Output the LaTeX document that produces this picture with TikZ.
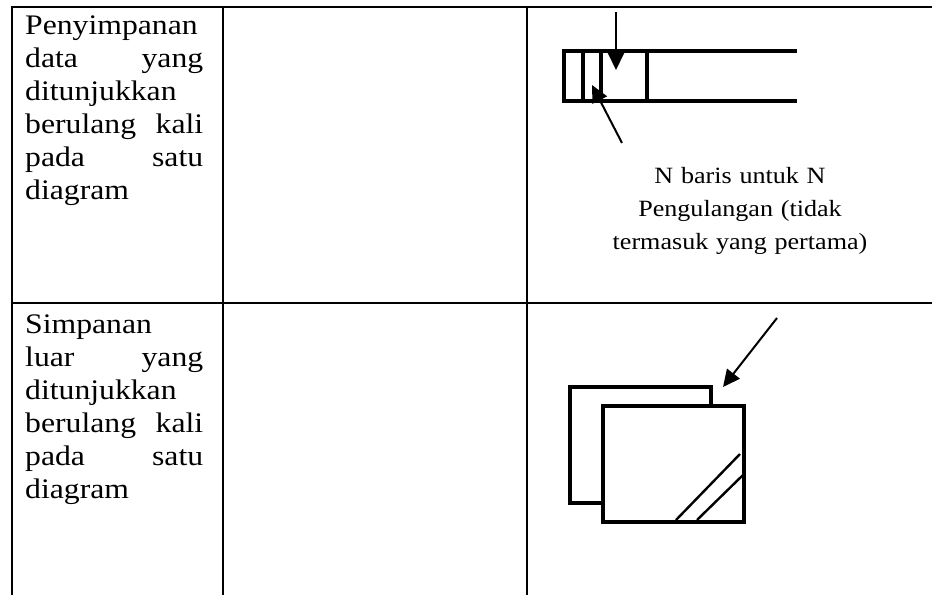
\documentclass[tikz,border=0pt]{standalone}
\usepackage{fontspec}
\setmainfont{Liberation Serif}
\newfontfamily\cellfont[FakeStretch=1.12]{Liberation Serif}
\usepackage{tikz}
\usetikzlibrary{arrows.meta}
\tikzset{
    tableline/.style = {line width=2.6pt},
    storeline/.style = {line width=3.2pt},
    boxline/.style = {line width=3.8pt, fill=white},
    hatchline/.style = {line width=2.4pt},
    pointer/.style = {->, line width=2pt},
    celltext/.style = {anchor=base west, inner sep=0pt, text width=178pt, align=left, font=\cellfont\fontsize{28.3}{33}\selectfont},
    notetext/.style = {anchor=base, inner sep=0pt, text width=300pt, align=center, font=\cellfont\fontsize{23.3}{33}\selectfont}
}

\begin{document}
\begin{tikzpicture}
            [x=1pt, y=-1pt,
            >={Triangle[length=17pt, width=16pt]}]

            \useasboundingbox (0,0) rectangle (932,595);

            % table
            \draw[tableline] (12,595) -- (12,7) -- (932,7);
            \draw[tableline] (12,303) -- (932,303);
            \draw[tableline] (223,7) -- (223,595);
            \draw[tableline] (527,7) -- (527,595);

            % first column
            \node[celltext] (repeatstore) at (25,34)
                {Penyimpanan\\ data\hfill yang\\ ditunjukkan\\ berulang\hfill kali\\ pada\hfill satu\\ diagram};
            \node[celltext] (repeatext) at (25,333)
                {Simpanan\\ luar\hfill yang\\ ditunjukkan\\ berulang\hfill kali\\ pada\hfill satu\\ diagram};

            % data store with extra lines
            \draw[storeline] (797,51) -- (564,51) -- (564,101) -- (797,101);
            \foreach \x in {583,601,647}
                \draw[storeline] (\x,51) -- (\x,101);
            \coordinate (topin) at (616,12);
            \coordinate (toptip) at (616,70);
            \coordinate (linein) at (622,143);
            \coordinate (linetip) at (592,85);
            \draw[pointer] (topin) -- (toptip);
            \draw[pointer] (linein) -- (linetip);
            \node[notetext] (storenote) at (740,183)
                {N baris untuk N\\ Pengulangan (tidak\\ termasuk yang pertama)};

            % external store shown twice
            \draw[boxline] (570,387) rectangle (711,503);
            \draw[boxline] (603,406) rectangle (744,522);
            \draw[hatchline] (676,520) -- (740,454);
            \draw[hatchline] (697,520) -- (743,475);
            \coordinate (boxin) at (777,318);
            \coordinate (boxtip) at (723,387);
            \draw[pointer] (boxin) -- (boxtip);
\end{tikzpicture}
\end{document}
